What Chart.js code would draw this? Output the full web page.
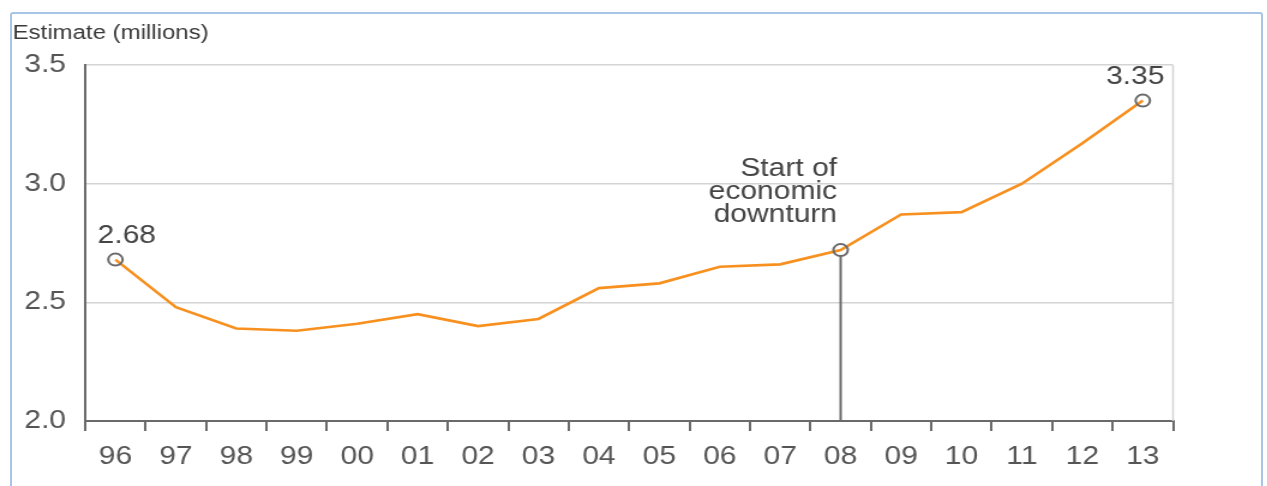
<!DOCTYPE html>
<html>
<head>
<meta charset="utf-8">
<script src="https://cdn.jsdelivr.net/npm/chart.js@4.4.1/dist/chart.umd.min.js"></script>
<style>
  html, body { margin: 0; padding: 0; background: #fff; }
  #wrap { position: relative; width: 1267px; height: 486px; overflow: hidden; }
  #frame {
    position: absolute; left: 10px; top: 12px; width: 1253px; height: 500px;
    border: 2px solid #a8c4e6; border-radius: 3px; box-sizing: border-box;
  }
  /* the chart is laid out narrow and widened 1.2x */
  #chart {
    position: absolute; left: 0; top: 0;
    width: 1056px; height: 486px;
    transform: scaleX(1.2); transform-origin: 0 0;
  }
</style>
</head>
<body>
<div id="wrap">
  <div id="frame"></div>
  <canvas id="chart" width="1056" height="486"></canvas>
</div>
<script>
// --- data ---
const years = ['96', '97', '98', '99', '00', '01', '02', '03', '04', '05', '06', '07', '08', '09', '10', '11', '12', '13'];
const estimates = [2.68, 2.48, 2.39, 2.38, 2.41, 2.45, 2.40, 2.43, 2.56, 2.58, 2.65, 2.66, 2.72, 2.87, 2.88, 3.00, 3.17, 3.35];
const yTicks = [2.0, 2.5, 3.0, 3.5];

// points that get a circle marker + callout
const markedIdx = [0, 12, 17];
const downturnIdx = 12;
const downturnLines = ['Start of', 'economic', 'downturn'];

const colors = {
    line: '#f7901e',
    axis: '#6a6a6a',
    grid: '#d4d4d4',
    text: '#444444'
};
const FONT = "'Liberation Sans', Arial, sans-serif";

// extra drawing: y title, value callouts, downturn marker, right border
const annotationPlugin = {
    id: 'annotations',
    beforeDatasetsDraw(chart) {
        const { ctx, chartArea, scales: { x, y } } = chart;
        ctx.save();
        // right border of the plot box
        ctx.strokeStyle = colors.grid;
        ctx.lineWidth = 1.5;
        ctx.beginPath();
        ctx.moveTo(chartArea.right, chartArea.top);
        ctx.lineTo(chartArea.right, chartArea.bottom);
        ctx.stroke();

        // vertical drop line at the downturn point
        const dx = x.getPixelForValue(downturnIdx);
        const dy = y.getPixelForValue(estimates[downturnIdx]);
        ctx.strokeStyle = colors.axis;
        ctx.lineWidth = 2;
        ctx.beginPath();
        ctx.moveTo(dx, dy + 6);
        ctx.lineTo(dx, chartArea.bottom);
        ctx.stroke();
        ctx.restore();
    },
    afterDraw(chart) {
        const { ctx, scales: { x, y } } = chart;
        ctx.save();
        ctx.fillStyle = '#3a3a3a';
        ctx.font = '20px ' + FONT;
        ctx.textAlign = 'left';
        ctx.textBaseline = 'middle';
        ctx.fillText('Estimate (millions)', 10.5, 33);

        ctx.fillStyle = colors.text;
        ctx.font = '25px ' + FONT;
        ctx.textBaseline = 'middle';

        // first value
        const x0 = x.getPixelForValue(0);
        const y0 = y.getPixelForValue(estimates[0]);
        ctx.textAlign = 'center';
        ctx.fillText(estimates[0].toFixed(2), x0 + 9.5, y0 - 24);

        // last value
        const last = estimates.length - 1;
        const xl = x.getPixelForValue(last);
        const yl = y.getPixelForValue(estimates[last]);
        ctx.textAlign = 'right';
        ctx.fillText(estimates[last].toFixed(2), xl + 18, yl - 23);

        // downturn label, right aligned over the point
        const dx = x.getPixelForValue(downturnIdx);
        const dy = y.getPixelForValue(estimates[downturnIdx]);
        downturnLines.forEach((t, i) => {
            ctx.fillText(t, dx - 3, dy - 81 + i * 23);
        });
        ctx.restore();
    }
};

new Chart(document.getElementById('chart').getContext('2d'), {
    type: 'line',
    data: {
        labels: years,
        datasets: [{
            data: estimates,
            borderColor: colors.line,
            borderWidth: 2.6,
            tension: 0,
            pointRadius: estimates.map((v, i) => markedIdx.includes(i) ? 6 : 0),
            pointBackgroundColor: 'rgba(0,0,0,0)',
            pointBorderColor: colors.axis,
            pointBorderWidth: 2,
            pointHoverRadius: 6
        }]
    },
    options: {
        responsive: false,
        animation: false,
        layout: { padding: { top: 65, right: 78.5, left: 0, bottom: 0 } },
        plugins: {
            legend: { display: false },
            tooltip: { enabled: false }
        },
        scales: {
            x: {
                type: 'category',
                offset: true,
                afterFit: s => { s.height = 65; },
                grid: {
                    offset: true,
                    drawOnChartArea: false,
                    color: colors.axis,
                    lineWidth: 2,
                    tickLength: 10
                },
                border: { color: colors.axis, width: 2 },
                ticks: {
                    color: '#555',
                    padding: 11,
                    maxRotation: 0,
                    autoSkip: false,
                    font: { family: FONT, size: 25 }
                }
            },
            y: {
                min: 2.0,
                max: 3.5,
                afterFit: s => { s.width = 71; },
                afterBuildTicks: s => { s.ticks = yTicks.map(v => ({ value: v })); },
                grid: {
                    color: colors.grid,
                    lineWidth: 1.5,
                    drawTicks: false
                },
                border: { color: colors.axis, width: 2 },
                ticks: {
                    color: '#555',
                    padding: 16,
                    font: { family: FONT, size: 25 },
                    callback: v => Number(v).toFixed(1)
                }
            }
        }
    },
    plugins: [annotationPlugin]
});
</script>
</body>
</html>
